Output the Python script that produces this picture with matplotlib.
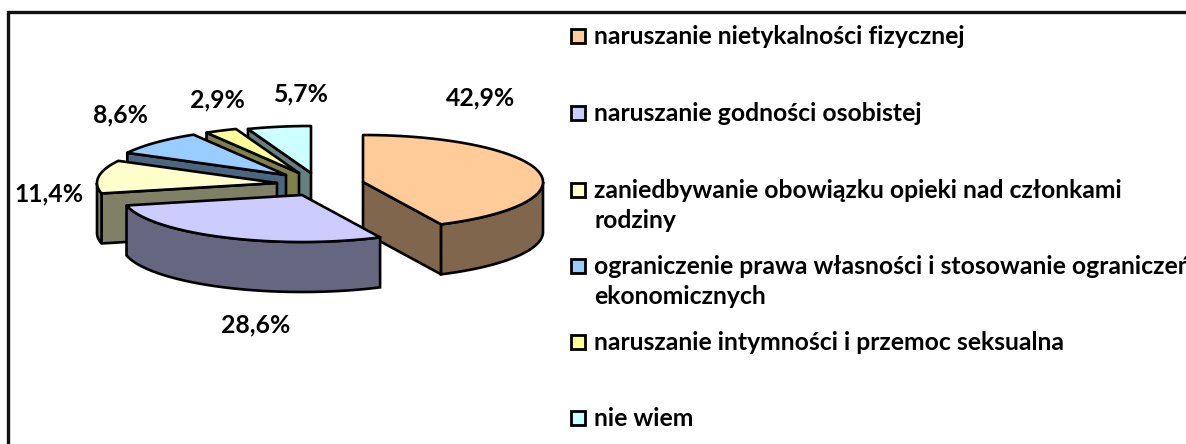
import numpy as np
import matplotlib
matplotlib.use('Agg')
import matplotlib.pyplot as plt
from matplotlib.patches import Polygon, Rectangle

# dane
categories = ['naruszanie nietykalności fizycznej',
              'naruszanie godności osobistej',
              'zaniedbywanie obowiązku opieki nad członkami\nrodziny',
              'ograniczenie prawa własności i stosowanie ograniczeń\nekonomicznych',
              'naruszanie intymności i przemoc seksualna',
              'nie wiem']
values = [42.9, 28.6, 11.4, 8.6, 2.9, 5.7]
value_labels = ['42,9%', '28,6%', '11,4%', '8,6%', '2,9%', '5,7%']
colors = ['#FFCC99', '#CCCCFF', '#FFFFCC', '#99CCFF', '#FFFF99', '#CCFFFF']

# uklad w pikselach
apex = [(363, 182), (302, 195), (277, 183), (286, 175), (299, 173), (311, 173)]
label_pos = [(481, 98), (256, 325), (49, 194), (121, 115), (217, 100), (301, 94)]
legend_y = [36, 113, 190, 266, 342, 418]
rx, ry, depth = 180, 47, 50
font = 'Lato'
font_size = 17.8

fig = plt.figure(figsize=(11.86, 4.44), dpi=100)
ax = fig.add_axes([0, 0, 1, 1])
ax.set_xlim(0, 1186)
ax.set_ylim(444, 0)
ax.axis('off')

# ramka (tylko lewa i gorna krawedz widoczna)
ax.plot([8, 8, 1186], [444, 12, 12], color='#111111', lw=2.4, solid_joinstyle='miter')


def rim(cx, cy, t0, t1, dy=0):
    t = np.radians(np.linspace(t0, t1, 80))
    return np.column_stack([cx + rx * np.sin(t), cy - ry * np.cos(t) + dy])


def side(top):
    return tuple(c * 0.5 for c in matplotlib.colors.to_rgb(top))


def draw_slice(i, t0, t1):
    cx, cy = apex[i]
    dark = side(colors[i])
    # sciana boczna przy krawedzi
    for t, show in ((t0, t0 > 180), (t1, t1 < 180)):
        if show:
            p = rim(cx, cy, t, t, 0)[0]
            ax.add_patch(Polygon([(cx, cy), p, (p[0], p[1] + depth), (cx, cy + depth)],
                                 fc=dark, ec='black', lw=1.9, joinstyle='round'))
    # zewnetrzna sciana
    a, b = max(t0, 90), min(t1, 270)
    if a < b:
        top = rim(cx, cy, a, b)
        bottom = rim(cx, cy, a, b, depth)[::-1]
        ax.add_patch(Polygon(np.vstack([top, bottom]), fc=dark, ec='black', lw=1.9))
    # wierzch
    pts = np.vstack([[(cx, cy)], rim(cx, cy, t0, t1)])
    ax.add_patch(Polygon(pts, fc=colors[i], ec='black', lw=1.9, joinstyle='round'))


edges = np.concatenate([[0], np.cumsum(values)]) / np.sum(values) * 360
for i in [5, 4, 3, 2, 0, 1]:
    draw_slice(i, edges[i], edges[i + 1])

for txt, (x, y) in zip(value_labels, label_pos):
    ax.text(x, y, txt, fontsize=font_size, fontweight='bold', family=font,
            ha='center', va='center', color='black')

# legenda
for name, col, y in zip(categories, colors, legend_y):
    ax.add_patch(Rectangle((571, y - 7), 14, 14, fc=col, ec='black', lw=2))
    lines = name.split('\n')
    for k, line in enumerate(lines):
        ax.text(594, y + k * 30, line, fontsize=font_size, fontweight='bold', family=font,
                ha='left', va='center', color='black')

fig.savefig('out.png', dpi=100)
